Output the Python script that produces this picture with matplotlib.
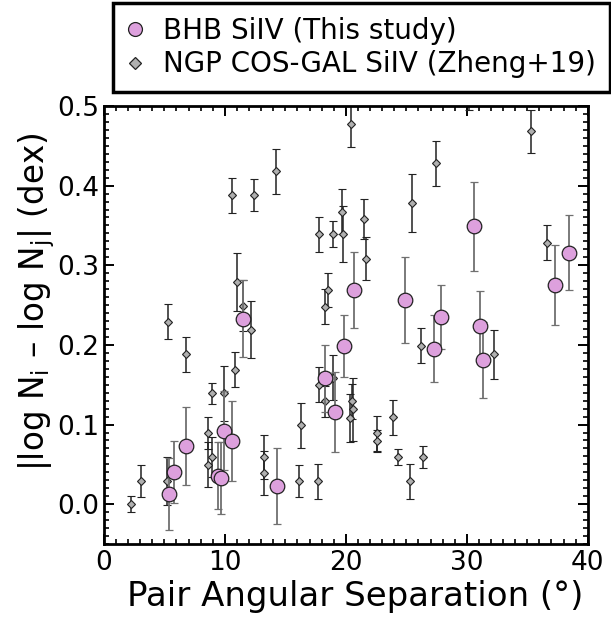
import matplotlib
matplotlib.use("Agg")
import matplotlib.pyplot as plt
from matplotlib.ticker import MultipleLocator
from matplotlib.lines import Line2D

plt.rcParams['font.family'] = ['DejaVu Sans']
plt.rcParams['mathtext.fontset'] = 'dejavusans'

# BHB SiIV (This study)
bhb_x = [5.37, 5.76, 6.8, 9.45, 9.72, 9.92, 10.63, 11.46, 14.35, 18.26, 19.1,
         19.86, 20.66, 24.93, 27.3, 27.9, 30.58, 31.1, 31.3, 37.33, 38.43]
bhb_y = [0.0125, 0.040, 0.073, 0.036, 0.033, 0.0925, 0.079, 0.233, 0.0225, 0.158, 0.116,
         0.199, 0.269, 0.256, 0.195, 0.235, 0.349, 0.2235, 0.181, 0.275, 0.316]
bhb_err = [0.045, 0.039, 0.049, 0.042, 0.045, 0.05, 0.05, 0.048, 0.048, 0.042, 0.05,
           0.039, 0.048, 0.054, 0.042, 0.04, 0.056, 0.044, 0.048, 0.05, 0.047]

# NGP COS-GAL SiIV (Zheng+19)
ngp_x = [2.26, 3.08, 5.2, 5.26, 6.78, 8.57, 8.57, 8.9, 8.9, 9.89, 10.6, 10.83, 10.99,
         11.54, 12.15, 12.37, 13.25, 13.25, 14.19, 16.1, 16.26, 17.74, 17.77, 17.8,
         18.26, 18.26, 18.54, 18.9, 18.9, 19.67, 19.78, 20.33, 20.39, 20.47, 20.6,
         21.54, 21.65, 22.59, 22.59, 23.9, 24.35, 25.34, 25.5, 26.25, 26.36, 27.44,
         32.23, 35.3, 36.6, 30.2]
ngp_y = [0.0, 0.029, 0.029, 0.229, 0.188, 0.089, 0.0496, 0.059, 0.139, 0.139, 0.388,
         0.169, 0.279, 0.249, 0.219, 0.388, 0.059, 0.039, 0.418, 0.029, 0.099, 0.029,
         0.339, 0.150, 0.129, 0.248, 0.269, 0.339, 0.159, 0.3675, 0.339, 0.108, 0.478,
         0.129, 0.119, 0.358, 0.308, 0.089, 0.079, 0.109, 0.059, 0.029, 0.378, 0.199,
         0.059, 0.428, 0.188, 0.468, 0.328, 0.53]
ngp_err = [0.01, 0.02, 0.03, 0.022, 0.022, 0.02, 0.028, 0.025, 0.013, 0.035, 0.022,
           0.022, 0.036, 0.032, 0.036, 0.02, 0.028, 0.028, 0.028, 0.02, 0.028, 0.022,
           0.022, 0.022, 0.02, 0.022, 0.021, 0.016, 0.028, 0.028, 0.035, 0.03, 0.03,
           0.022, 0.04, 0.025, 0.027, 0.022, 0.014, 0.022, 0.01, 0.022, 0.036, 0.022,
           0.0135, 0.028, 0.031, 0.027, 0.022, 0.035]

fig = plt.figure(figsize=(6.11, 6.22), dpi=100)
ax = fig.add_axes([0.170, 0.1254, 0.792, 0.7042])

ax.errorbar(ngp_x, ngp_y, yerr=ngp_err, fmt='D', ms=3.8, mfc='#b0b0b0', mec='#222222',
            mew=0.8, ecolor='#222222', elinewidth=1.1, capsize=3.2, capthick=1.1, zorder=2)
ax.errorbar(bhb_x, bhb_y, yerr=bhb_err, fmt='o', ms=10.5, mfc='#dda0dd', mec='#222222',
            mew=0.9, ecolor='#707070', elinewidth=1.3, capsize=3.2, capthick=1.3, zorder=3)

ax.set_xlim(0, 40)
ax.set_ylim(-0.05, 0.5)
ax.xaxis.set_major_locator(MultipleLocator(10))
ax.xaxis.set_minor_locator(MultipleLocator(1))
ax.yaxis.set_minor_locator(MultipleLocator(0.01))
ax.set_yticks([0.0, 0.1, 0.2, 0.3, 0.4, 0.5])
ax.set_yticklabels(['0.0', '0.1', '0.2', '0.3', '0.4', '0.5'])
ax.tick_params(which='both', direction='in', top=True, right=True, labelsize=19)
ax.tick_params(axis='y', pad=3)
ax.tick_params(axis='x', pad=4)
ax.tick_params(which='major', length=7.5, width=1.4)
ax.tick_params(which='minor', length=3.8, width=1.2)
for s in ax.spines.values():
    s.set_linewidth(2)

ax.set_xlabel('Pair Angular Separation (°)', fontsize=24.5)
ax.xaxis.set_label_coords(0.519, -0.082)
ax.set_ylabel(r'|log N$_\mathregular{i}$ – log N$_\mathregular{j}$| (dex)', fontsize=23.5)
ax.yaxis.set_label_coords(-0.097, 0.553)

handles = [
    Line2D([], [], ls='none', marker='o', ms=10, mfc='#dda0dd', mec='#222222', mew=0.9),
    Line2D([], [], ls='none', marker='D', ms=6.5, mfc='#b0b0b0', mec='#222222', mew=0.9),
]
leg = fig.legend(handles, ['BHB SiIV (This study)', 'NGP COS-GAL SiIV (Zheng+19)'],
                 loc='upper left', bbox_to_anchor=(0.185, 0.995), fontsize=20,
                 frameon=True, fancybox=False, edgecolor='black', framealpha=1,
                 handletextpad=0.7, handlelength=0.6, borderpad=0.5, labelspacing=0.19,
                 borderaxespad=0)
leg.get_frame().set_linewidth(2.5)

fig.savefig('out.png', dpi=100)
